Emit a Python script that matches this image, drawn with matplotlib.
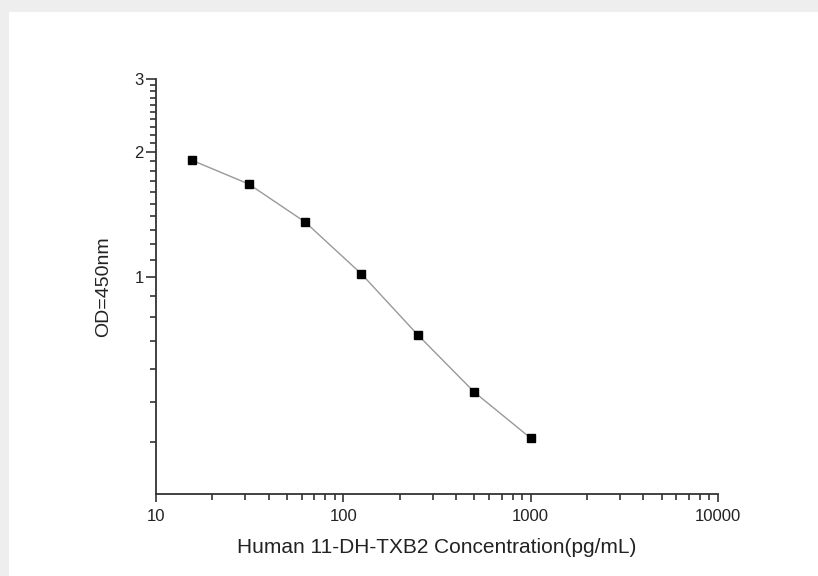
import numpy as np
import matplotlib
matplotlib.use('Agg')
import matplotlib.pyplot as plt
from matplotlib.ticker import FixedLocator, NullFormatter

# standard curve values
conc = [15.625, 31.25, 62.5, 125, 250, 500, 1000]
od = [1.91, 1.675, 1.357, 1.017, 0.725, 0.528, 0.409]

y_major = [1, 2, 3]
y_minor = [0.4, 0.5, 0.6, 0.7, 0.8, 0.9,
           1.1, 1.2, 1.3, 1.4, 1.5, 1.6, 1.7, 1.8, 1.9,
           2.1, 2.2, 2.3, 2.4, 2.5, 2.6, 2.7, 2.8, 2.9]
x_major = [10, 100, 1000, 10000]

plt.rcParams['font.family'] = ['Liberation Sans', 'DejaVu Sans']

fig = plt.figure(figsize=(8.18, 5.76), dpi=100)
fig.patch.set_facecolor('#eeeeee')
# white page area
fig.patches.append(plt.Rectangle((9 / 818, 0), 1, 1 - 12 / 576, transform=fig.transFigure,
                                 facecolor='white', edgecolor='none', zorder=-10))

ax = fig.add_axes([156 / 818, 82 / 576, 562 / 818, 415 / 576])
ax.set_facecolor('none')

ax.plot(conc, od, color='#999999', lw=1, zorder=2)
ax.plot(conc, od, ls='none', marker='s', ms=6, color='black', zorder=3)

ax.set_xscale('log')
ax.set_yscale('log')
ax.set_xlim(10, 10000)
ax.set_ylim(0.3, 3)

ax.yaxis.set_major_locator(FixedLocator(y_major))
ax.yaxis.set_minor_locator(FixedLocator(y_minor))
ax.set_yticklabels([str(v) for v in y_major])
ax.yaxis.set_minor_formatter(NullFormatter())
ax.xaxis.set_major_locator(FixedLocator(x_major))
ax.set_xticklabels([str(v) for v in x_major])
ax.xaxis.set_minor_formatter(NullFormatter())

for s in ['top', 'right']:
    ax.spines[s].set_visible(False)
for s in ['left', 'bottom']:
    ax.spines[s].set_linewidth(1.3)
    ax.spines[s].set_color('#333333')

ax.tick_params(axis='both', which='major', direction='out', length=7, width=1.2,
               color='#333333', labelsize=12, labelcolor='#222222')
ax.tick_params(axis='both', which='minor', direction='out', length=4, width=1.2, color='#333333')
ax.tick_params(axis='x', which='major', length=6, pad=5)
ax.tick_params(axis='y', which='major', pad=2)

ax.set_xlabel('Human 11-DH-TXB2 Concentration(pg/mL)', fontsize=15, color='#222222', labelpad=10)
ax.set_ylabel('OD=450nm', fontsize=14, color='#222222', labelpad=16)

fig.savefig('out.png', dpi=100, facecolor=fig.get_facecolor())
